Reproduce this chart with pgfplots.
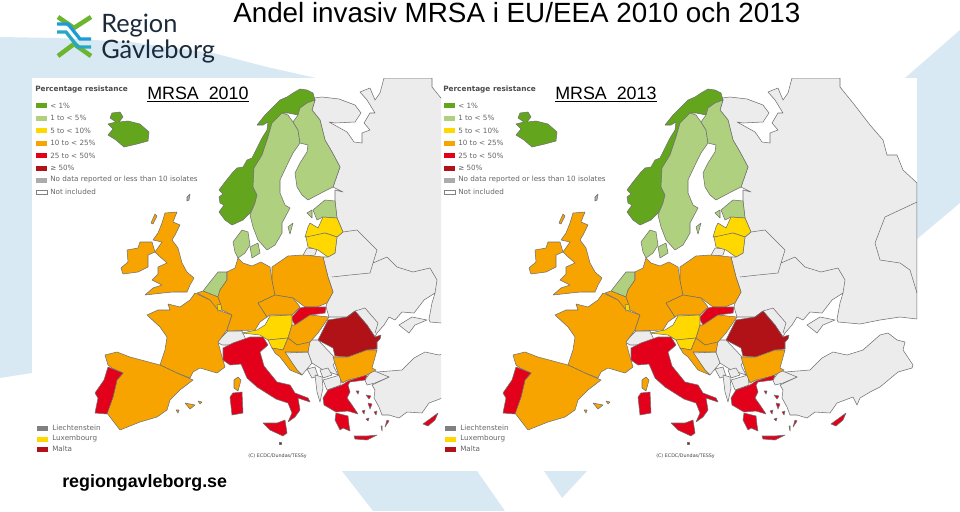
\documentclass[border=0pt]{standalone}
\usepackage{pgfplots}
\pgfplotsset{compat=1.18}
\usepackage{fontspec}
\setmainfont{Liberation Sans}
\newfontfamily\legfont{DejaVu Sans}
\newfontfamily\logofont{Lato}
\definecolor{bgblue}{HTML}{D8E9F3}
\definecolor{cgreen}{HTML}{63A61E}
\definecolor{clight}{HTML}{AFD07F}
\definecolor{cyellow}{HTML}{FFD800}
\definecolor{corange}{HTML}{F7A400}
\definecolor{cred}{HTML}{E2001A}
\definecolor{cdark}{HTML}{B01217}
\definecolor{cgrey}{HTML}{ECECEC}
\definecolor{cnodata}{HTML}{ABABAB}
\definecolor{border}{HTML}{707070}
\definecolor{legtext}{HTML}{666666}
\definecolor{logoblue}{HTML}{1E9BD7}
\definecolor{logoteal}{HTML}{23A9C4}
\definecolor{logogreen}{HTML}{6BB52F}
\definecolor{logotext}{HTML}{1B2A3A}

\pgfplotsset{
  slide/.style={hide axis,scale only axis,y dir=reverse},
  land/.style={draw=border,line width=0.4pt,line join=round},
  swatch/.style={draw=none},
}

% map outlines, in pixels of the left panel; the right panel sits 408 px further on
\newcommand{\drawmap}{
  % Russia, Belarus, Ukraine, Moldova
  \addplot[land,fill=cgrey] coordinates {(314,98)(322,97)(339,99)(355,105)(361,113)(355,122)(335,123)(329,122)(347,132)(354,142)(362,143)(362,133)(370,130)(364,123)(370,113)(375,113)(367,100)(360,92)(370,88)(375,100)(380,93)(384,78)(432,78)(432,87)(445,103)(462,125)(475,140)(479,155)(489,155)(495,170)(509,183)(509,319)(492,317)(472,320)(452,324)(430,322)(429,319)(432,303)(435,293)(424,300)(414,313)(402,312)(395,320)(389,317)(384,325)(377,333)(375,337)(367,325)(355,311)(347,317)(329,317)(326,307)(327,303)(333,292)(328,277)(323,257)(328,257)(335,253)(337,237)(343,232)(337,218)(335,201)(335,190)(343,192)(333,187)(340,167)(332,152)(325,140)(320,120)(312,110)(315,100)} --cycle;
  \addplot[land] coordinates {(343,232)(357,230)(367,240)(377,250)(373,263)(387,257)(397,267)(413,272)(430,268)(437,280)(435,293)};
  \addplot[land] coordinates {(332,277)(350,275)(370,273)(373,263)};
  \addplot[land] coordinates {(355,311)(365,308)(378,323)(375,333)};
  \addplot[land] coordinates {(509,202)(477,217)(467,243)(472,260)(492,263)(502,270)(509,293)};
  % Crimea, Turkey, Kaliningrad, Faroes
  \addplot[land,fill=cgrey] coordinates {(399,325)(412,317)(427,320)(415,325)(409,333)} --cycle;
  \addplot[land,fill=cgrey] coordinates {(402,370)(414,358)(425,352)(439,355)(455,350)(472,335)(480,333)(489,340)(497,342)(495,350)(505,365)(504,368)(490,372)(472,387)(462,392)(452,398)(449,405)(445,397)(429,403)(422,413)(407,412)(399,418)(389,415)(382,415)(379,407)(374,398)(375,390)(372,385)(389,377)(380,377)(377,372)} --cycle;
  \addplot[land,fill=cgrey] coordinates {(365,380)(372,370)(389,377)(375,383)(367,385)} --cycle;
  \addplot[land,fill=cgrey] coordinates {(302,257)(307,248)(317,249)(315,255)} --cycle;
  \addplot[land,fill=cnodata] coordinates {(187,197)(190,194)(189,200)(187,201)} --cycle;
  % Western Balkans and Switzerland
  \addplot[land,fill=cgrey] coordinates {(285,353)(308,352)(312,363)(302,375)(297,370)} --cycle;
  \addplot[land,fill=cgrey] coordinates {(308,340)(318,340)(337,360)(333,365)(338,375)(323,370)(312,363)(308,352)} --cycle;
  \addplot[land,fill=cgrey] coordinates {(307,369)(315,367)(318,376)(312,378)} --cycle;
  \addplot[land,fill=cgrey] coordinates {(320,370)(328,368)(332,375)(323,378)} --cycle;
  \addplot[land,fill=cgrey] coordinates {(323,380)(340,375)(341,385)(327,390)} --cycle;
  \addplot[land,fill=cgrey] coordinates {(315,375)(322,377)(323,388)(320,402)(317,392)} --cycle;
  \addplot[land,fill=cgrey] coordinates {(217,342)(228,331)(242,331)(247,342)(233,345)(222,345)} --cycle;
  % Nordic countries
  \addplot[land,fill=cgreen] coordinates {(112,113)(120,112)(123,117)(119,122)(128,121)(140,124)(149,132)(148,141)(137,144)(124,147)(116,140)(108,135)(113,129)(108,124)(116,122)(110,118)} --cycle;
  \addplot[land,fill=cgreen] coordinates {(313,93)(307,90)(300,89)(293,93)(287,97)(280,100)(272,108)(265,115)(257,125)(263,125)(268,122)(267,130)(262,138)(257,148)(252,158)(247,160)(243,167)(237,168)(233,172)(225,182)(219,190)(223,194)(219,197)(220,203)(224,205)(219,212)(225,220)(232,225)(243,220)(250,213)(255,203)(257,195)(253,187)(254,168)(262,155)(268,137)(272,123)(282,120)(282,113)(288,113)(298,115)(300,108)(307,103)(315,100)} --cycle;
  \addplot[land,fill=clight] coordinates {(282,113)(272,123)(268,137)(262,155)(254,168)(253,187)(257,195)(255,203)(250,215)(253,227)(258,240)(267,250)(275,245)(282,233)(282,223)(290,208)(285,205)(280,193)(280,180)(288,163)(293,153)(300,143)(298,130)(293,122)(288,115)} --cycle;
  \addplot[land,fill=clight] coordinates {(298,115)(293,122)(298,130)(300,143)(308,145)(307,152)(300,163)(295,173)(297,187)(302,195)(308,200)(323,192)(333,187)(340,167)(332,152)(325,140)(320,120)(312,110)(315,100)(307,103)(300,108)} --cycle;
  \addplot[land,fill=clight] coordinates {(233,242)(242,230)(248,232)(250,245)(245,253)(238,258)(235,252)} --cycle;
  \addplot[land,fill=clight] coordinates {(250,247)(258,243)(260,253)(252,258)} --cycle;
  \addplot[land,fill=clight] coordinates {(288,227)(293,223)(290,234)} --cycle;
  % Baltic states
  \addplot[land,fill=clight] coordinates {(313,210)(325,200)(335,201)(337,218)(323,217)(317,220)} --cycle;
  \addplot[land,fill=clight] coordinates {(307,213)(312,210)(312,218)} --cycle;
  \addplot[land,fill=cyellow] coordinates {(305,237)(308,227)(310,223)(318,228)(323,217)(337,218)(343,232)(337,237)(325,233)(310,237)} --cycle;
  \addplot[land,fill=cyellow] coordinates {(306,237)(325,233)(337,237)(335,253)(328,257)(318,250)(308,247)} --cycle;
  % British Isles
  \addplot[land,fill=corange] coordinates {(165,213)(177,212)(173,222)(180,225)(175,235)(172,240)(178,248)(182,263)(187,272)(194,278)(190,285)(187,292)(173,292)(163,293)(145,295)(153,288)(162,285)(152,280)(158,274)(158,267)(167,263)(158,255)(155,252)(162,242)(153,240)(158,233)(162,223)} --cycle;
  \addplot[land,fill=corange] coordinates {(140,242)(152,242)(155,252)(148,255)(148,267)(138,272)(123,274)(121,268)(128,262)(127,250)(138,248)} --cycle;
  \addplot[land,fill=corange] coordinates {(155,214)(157,216)(153,224)(151,223)} --cycle;
  % Western Europe
  \addplot[land,fill=corange] coordinates {(195,293)(210,300)(215,305)(218,310)(232,315)(227,330)(218,342)(222,357)(225,367)(217,373)(200,368)(193,372)(190,378)(177,373)(160,365)(165,350)(167,337)(160,327)(147,315)(158,310)(170,310)(168,304)(180,307)(190,300)} --cycle;
  \addplot[land,fill=corange] coordinates {(105,355)(117,352)(130,357)(160,365)(177,373)(193,380)(180,390)(170,400)(167,410)(157,417)(140,422)(120,430)(110,417)(107,413)(113,397)(117,380)(123,373)(112,368)(108,365)} --cycle;
  \addplot[land,fill=cred] coordinates {(108,367)(123,373)(117,380)(113,397)(107,414)(95,413)(98,398)(95,393)(104,380)} --cycle;
  \addplot[land,fill=clight] coordinates {(218,272)(227,272)(227,280)(220,290)(218,297)(203,291)(210,282)} --cycle;
  \addplot[land,fill=corange] coordinates {(197,293)(203,291)(218,297)(221,305)(218,310)(210,300)} --cycle;
  \addplot[land,fill=cyellow] coordinates {(217,305)(221,304)(222,310)(218,311)} --cycle;
  \addplot[land,fill=corange] coordinates {(185,403)(195,405)(190,409)} --cycle;
  \addplot[land,fill=corange] coordinates {(198,401)(202,402)(200,404)} --cycle;
  \addplot[land,fill=corange] coordinates {(176,410)(179,410)(178,413)} --cycle;
  % Central Europe
  \addplot[land,fill=corange] coordinates {(238,258)(243,263)(252,266)(261,262)(270,267)(272,280)(275,295)(258,303)(267,317)(260,322)(255,330)(228,331)(227,330)(232,315)(222,310)(221,305)(218,297)(220,290)(227,280)(227,272)(235,268)} --cycle;
  \addplot[land,fill=corange] coordinates {(272,267)(288,256)(303,255)(323,257)(328,277)(333,292)(327,303)(317,307)(305,307)(293,298)(275,295)(272,280)} --cycle;
  \addplot[land,fill=corange] coordinates {(258,303)(275,295)(293,298)(300,307)(292,315)(270,315)(267,317)} --cycle;
  \addplot[land,fill=cred] coordinates {(300,308)(305,307)(317,307)(326,307)(325,313)(310,315)(295,325)(291,318)} --cycle;
  \addplot[land,fill=cyellow] coordinates {(242,333)(257,330)(265,325)(270,316)(292,315)(292,325)(288,338)(268,340)(260,335)} --cycle;
  \addplot[land,fill=cyellow] coordinates {(268,340)(288,338)(283,350)(272,348)} --cycle;
  \addplot[land,fill=corange] coordinates {(295,325)(310,315)(329,317)(318,333)(310,342)(297,345)(288,338)(292,325)} --cycle;
  \addplot[land,fill=corange] coordinates {(288,338)(297,345)(310,342)(308,352)(285,352)(297,370)(302,375)(290,370)(280,357)(275,353)(272,348)(283,350)} --cycle;
  % Romania, Bulgaria
  \addplot[land,fill=cdark] coordinates {(355,311)(367,325)(375,337)(381,335)(380,339)(377,342)(377,349)(367,350)(348,357)(335,356)(333,348)(318,340)(328,320)(347,317)} --cycle;
  \addplot[land,fill=corange] coordinates {(333,357)(348,357)(367,350)(377,350)(372,368)(376,370)(365,376)(348,380)(342,383)(338,373)} --cycle;
  % Italy with islands, Corsica
  \addplot[land,fill=cred] coordinates {(223,348)(233,343)(250,337)(263,337)(268,345)(260,352)(264,366)(277,382)(290,385)(295,393)(308,398)(310,402)(298,398)(300,410)(295,417)(288,422)(292,413)(288,403)(276,399)(257,387)(247,378)(241,364)(230,365)(223,360)} --cycle;
  \addplot[land,fill=cred] coordinates {(263,423)(277,423)(285,420)(287,433)(283,436)(270,430)} --cycle;
  \addplot[land,fill=cred] coordinates {(233,393)(242,392)(243,413)(232,415)(230,397)} --cycle;
  \addplot[land,fill=corange] coordinates {(238,377)(241,380)(238,391)(234,388)(234,380)} --cycle;
  \addplot[land,fill=cdark] coordinates {(279,442)(281,442)(281,444)(279,444)} --cycle;
  % Greece, Crete, Cyprus and the Aegean
  \addplot[land,fill=cred] coordinates {(367,375)(365,380)(350,382)(348,385)(350,392)(347,398)(352,405)(358,414)(348,411)(336,412)(324,405)(323,398)(328,390)(342,385)(348,381)} --cycle;
  \addplot[land,fill=cred] coordinates {(336,413)(348,416)(349,425)(350,431)(343,428)(340,430)(335,420)} --cycle;
  \addplot[land,fill=cred] coordinates {(354,436)(367,436)(377,435)(367,440)(355,439)} --cycle;
  \addplot[land,fill=cred] coordinates {(423,424)(438,413)(435,420)(428,426)} --cycle;
  \addplot[land,fill=cred] coordinates {(366,395)(371,396)(369,399)} --cycle;
  \addplot[land,fill=cred] coordinates {(368,403)(372,404)(370,409)} --cycle;
  \addplot[land,fill=cred] coordinates {(387,420)(389,421)(385,427)} --cycle;
  \addplot[land,fill=cred] coordinates {(356,391)(359,391)(358,394)} --cycle;
  \addplot[land,fill=cred] coordinates {(362,411)(365,410)(364,414)} --cycle;
  \addplot[land,fill=cred] coordinates {(366,419)(369,418)(368,421)} --cycle;
  \addplot[land,fill=cred] coordinates {(374,412)(377,411)(376,415)} --cycle;
  \addplot[land,fill=cred] coordinates {(381,426)(382,426)(382,431)} --cycle;
  % legend
  \legendbox{36}{105}{cgreen}
  \legendbox{36}{118}{clight}
  \legendbox{36}{130}{cyellow}
  \legendbox{36}{143}{corange}
  \legendbox{36}{155}{cred}
  \legendbox{36}{168}{cdark}
  \legendbox{36}{180}{cnodata}
  \addplot[draw=gray,fill=white,line width=0.3pt] coordinates {(36,190)(47,190)(47,194)(36,194)} --cycle;
  \legendbox{37}{428}{gray}
  \legendbox{37}{439}{cyellow}
  \legendbox{37}{449}{cdark}
  \node[legnode,font=\legfont\bfseries\fontsize{5.5pt}{6pt}\selectfont,text=black!70] at (axis cs:35,90) {Percentage resistance};
  \node[legnode] at (axis cs:50,105.5) {< 1\%};
  \node[legnode] at (axis cs:50,118) {1 to < 5\%};
  \node[legnode] at (axis cs:50,130.5) {5 to < 10\%};
  \node[legnode] at (axis cs:50,143) {10 to < 25\%};
  \node[legnode] at (axis cs:50,155.5) {25 to < 50\%};
  \node[legnode] at (axis cs:50,168) {≥ 50\%};
  \node[legnode] at (axis cs:50,180) {No data reported or less than 10 isolates};
  \node[legnode] at (axis cs:50,192) {Not included};
  \node[legnode] at (axis cs:52,428) {Liechtenstein};
  \node[legnode] at (axis cs:52,439) {Luxembourg};
  \node[legnode] at (axis cs:52,449) {Malta};
  \node[legnode,font=\legfont\fontsize{3.6pt}{4pt}\selectfont,text=black!75] at (axis cs:248,456) {(C) ECDC/Dundas/TESSy};
}
\newcommand{\legendbox}[3]{
  \addplot[swatch,fill=#3] coordinates {(#1,#2-2.5)(#1+11,#2-2.5)(#1+11,#2+2.5)(#1,#2+2.5)} --cycle;
}
\tikzset{legnode/.style={anchor=west,inner sep=0pt,font=\legfont\fontsize{5.4pt}{6pt}\selectfont,text=legtext}}

\begin{document}
\begin{tikzpicture}
\path[use as bounding box] (0pt,0pt) rectangle (720pt,383.25pt);
% slide background, title and logo
\begin{axis}[slide,at={(0pt,0pt)},anchor=south west,width=720pt,height=383.25pt,
    xmin=0,xmax=960,ymin=0,ymax=511]
  \addplot[draw=none,fill=bgblue] coordinates {(0,37)(57,38)(130,42)(213,53)(267,67)(325,80)(325,373)(32,373)(0,378)} --cycle;
  \addplot[draw=none,fill=bgblue] coordinates {(960,30)(905,78)(960,78)} --cycle;
  \addplot[draw=none,fill=bgblue] coordinates {(917,78)(960,78)(960,203)(917,239)} --cycle;
  \addplot[draw=none,fill=bgblue] coordinates {(342,471)(477,471)(505,511)(373,511)} --cycle;
  \addplot[draw=none,fill=bgblue] coordinates {(544,471)(587,471)(562,498)} --cycle;
  \addplot[draw=none,fill=white] coordinates {(32,78)(917,78)(917,471)(32,471)} --cycle;
  % logo
  \addplot[logogreen,line width=3.4pt,line join=miter] coordinates {(58,17)(74,28)(91,17)};
  \addplot[logogreen,line width=3.4pt,line join=miter] coordinates {(58,56)(74,44)(91,56)};
  \addplot[logoblue,line width=2.5pt] coordinates {(57,24)(68,24)(80,39)(91,39)};
  \addplot[logoteal,line width=2.5pt] coordinates {(57,32)(66,32)(78,47)(91,47)};
  \node[anchor=base west,inner sep=0pt,font=\logofont\fontsize{19pt}{20pt}\selectfont,text=logotext] at (axis cs:101,32) {Region};
  \node[anchor=base west,inner sep=0pt,font=\logofont\fontsize{19pt}{20pt}\selectfont,text=logotext] at (axis cs:101,58) {Gävleborg};
  \node[anchor=base west,inner sep=0pt,font=\fontsize{20.85pt}{22pt}\selectfont] at (axis cs:233,22) {Andel invasiv MRSA i EU/EEA 2010 och 2013};
  \node[anchor=base west,inner sep=0pt,font=\bfseries\fontsize{13.4pt}{16pt}\selectfont] at (axis cs:62,487) {regiongavleborg.se};
\end{axis}
% left panel, 2010
\begin{axis}[slide,at={(24pt,30pt)},anchor=south west,width=306.75pt,height=294.75pt,
    xmin=32,xmax=441,ymin=78,ymax=471]
  \drawmap
  \node[anchor=base west,inner sep=0pt,font=\fontsize{13.4pt}{15pt}\selectfont] at (axis cs:147,99) {\underline{MRSA\ \ 2010}};
\end{axis}
% right panel, 2013
\begin{axis}[slide,at={(330.75pt,30pt)},anchor=south west,width=357pt,height=294.75pt,
    xmin=33,xmax=509,ymin=78,ymax=471]
  \drawmap
  \node[anchor=base west,inner sep=0pt,font=\fontsize{13.4pt}{15pt}\selectfont] at (axis cs:147,99) {\underline{MRSA\ \ 2013}};
\end{axis}
\end{tikzpicture}
\end{document}
